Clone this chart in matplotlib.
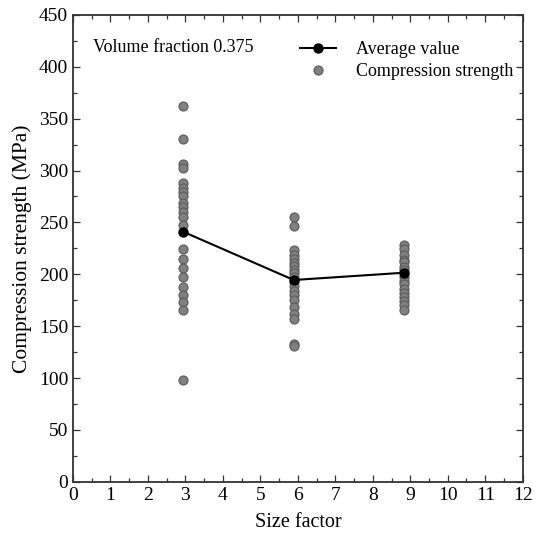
import matplotlib
matplotlib.use("Agg")
import matplotlib.pyplot as plt
from matplotlib.ticker import MultipleLocator

plt.rcParams['font.family'] = ['Liberation Serif', 'DejaVu Serif']
plt.rcParams['mathtext.fontset'] = 'stix'

size_factors = [2.94, 5.89, 8.83]
strength_sf1 = [362, 330, 306, 302, 288, 283, 279, 275, 269, 265, 260, 255, 248,
                224, 215, 206, 197, 188, 180, 173, 166, 98]
strength_sf2 = [255, 247, 223, 219, 215, 211, 208, 204, 201, 197, 193, 189, 184,
                180, 175, 168, 162, 157, 133, 131]
strength_sf3 = [228, 224, 219, 214, 212, 207, 204, 197, 194, 191, 186, 182, 178,
                174, 170, 166]
average_values = [241, 194.5, 201.5]

fig = plt.figure(figsize=(5.42, 5.45), dpi=100)
ax = fig.add_axes([0.1347, 0.1161, 0.8297, 0.8564])

groups = [strength_sf1, strength_sf2, strength_sf3]
first = True
for xv, vals in zip(size_factors, groups):
    ax.plot([xv] * len(vals), vals, linestyle='none', marker='o', markersize=6.5,
            markerfacecolor='#808080', markeredgecolor='#5a5a5a', markeredgewidth=0.8,
            label='Compression strength' if first else None, zorder=2)
    first = False

ax.plot(size_factors, average_values, color='black', linewidth=1.5, marker='o',
        markersize=6.5, markerfacecolor='black', markeredgecolor='black',
        label='Average value', zorder=3)

ax.set_xlim(0, 12)
ax.set_ylim(0, 450)
ax.xaxis.set_major_locator(MultipleLocator(1))
ax.xaxis.set_minor_locator(MultipleLocator(0.5))
ax.yaxis.set_major_locator(MultipleLocator(50))
ax.yaxis.set_minor_locator(MultipleLocator(25))
ax.tick_params(which='both', direction='in', top=True, right=True, labelsize=14,
               width=0.9, color='#333333')
ax.tick_params(which='major', length=5)
ax.tick_params(which='minor', length=3)
for sp in ax.spines.values():
    sp.set_linewidth(1.3)
    sp.set_color('#333333')

ax.set_xlabel('Size factor', fontsize=14.5, labelpad=7)
ax.set_ylabel('Compression strength (MPa)', fontsize=15.5, labelpad=5)

ax.text(0.044, 0.93, 'Volume fraction 0.375', transform=ax.transAxes,
        fontsize=13, va='center', ha='left')

handles, labels = ax.get_legend_handles_labels()
order = [labels.index('Average value'), labels.index('Compression strength')]
ax.legend([handles[i] for i in order], [labels[i] for i in order],
          loc='upper left', bbox_to_anchor=(0.488, 0.96), frameon=False,
          fontsize=13, handlelength=2.0, handletextpad=1.1, labelspacing=0.3,
          borderaxespad=0)

fig.savefig('out.png', dpi=100)
